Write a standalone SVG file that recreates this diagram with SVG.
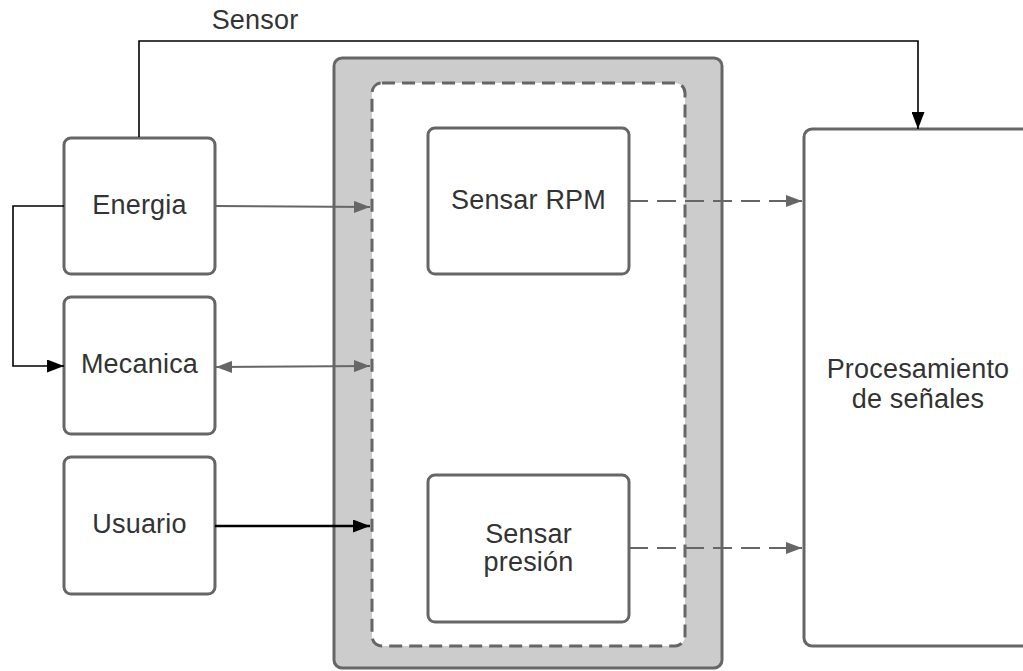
<svg xmlns="http://www.w3.org/2000/svg" width="1023" height="671" viewBox="0 0 1023 671">
  <style>
    .box { fill: #ffffff; stroke: #666666; stroke-width: 3; }
    .lbl { font-family: "Liberation Sans", Arial, sans-serif; font-size: 27px; fill: #333333; text-anchor: middle; letter-spacing: 0.2px; }
    .gray { stroke: #666666; stroke-width: 2; fill: none; }
    .black { stroke: #000000; stroke-width: 1.6; fill: none; }
    .dash { stroke: #666666; stroke-width: 2; fill: none; stroke-dasharray: 19 9; }
  </style>
  <defs>
    <marker id="arrGray" viewBox="0 0 16 12" refX="16" refY="6" markerWidth="16" markerHeight="12" markerUnits="userSpaceOnUse" orient="auto-start-reverse">
      <path d="M0,0 L16,6 L0,12 Z" fill="#666666"/>
    </marker>
    <marker id="arrBlack" viewBox="0 0 17 13" refX="17" refY="6.5" markerWidth="17" markerHeight="13" markerUnits="userSpaceOnUse" orient="auto">
      <path d="M0,0 L17,6.5 L0,13 Z" fill="#000000"/>
    </marker>
  </defs>

  <!-- sensing subsystem container -->
  <g id="container">
    <rect x="334" y="58" width="388" height="610" rx="8" fill="#cccccc" stroke="#666666" stroke-width="3"/>
    <rect x="372" y="83" width="313" height="563" rx="10" fill="#ffffff" stroke="#666666" stroke-width="3" stroke-dasharray="13 7"/>
  </g>

  <g id="energia">
    <rect class="box" x="64" y="138" width="151" height="136" rx="7"/>
    <text class="lbl" x="139.5" y="214">Energia</text>
  </g>
  <g id="mecanica">
    <rect class="box" x="64" y="297" width="151" height="137" rx="7"/>
    <text class="lbl" x="139.5" y="373">Mecanica</text>
  </g>
  <g id="usuario">
    <rect class="box" x="64" y="457" width="151" height="137" rx="7"/>
    <text class="lbl" x="139.5" y="533">Usuario</text>
  </g>
  <g id="sensar-rpm">
    <rect class="box" x="428" y="128" width="201" height="146" rx="7"/>
    <text class="lbl" x="528.5" y="209">Sensar RPM</text>
  </g>
  <g id="sensar-presion">
    <rect class="box" x="428" y="475" width="201" height="147" rx="7"/>
    <text class="lbl" x="528.5" y="543">Sensar</text>
    <text class="lbl" x="528.5" y="571">presión</text>
  </g>
  <g id="procesamiento">
    <rect class="box" x="804" y="129" width="232" height="517" rx="8"/>
    <text class="lbl" x="918" y="378">Procesamiento</text>
    <text class="lbl" x="918" y="408">de señales</text>
  </g>

  <g id="connectors">
    <!-- Energia to signal processing -->
    <polyline class="black" points="139,137 139,41 918,41 918,129" marker-end="url(#arrBlack)"/>
    <text class="lbl" x="255" y="29">Sensor</text>
    <!-- Energia to Mecanica -->
    <polyline class="black" points="64,206 13,206 13,366 64,366" marker-end="url(#arrBlack)"/>
    <!-- inputs into the sensing subsystem -->
    <line class="gray" x1="215" y1="206" x2="370" y2="207" marker-end="url(#arrGray)"/>
    <line class="gray" x1="216" y1="367" x2="370" y2="366" marker-start="url(#arrGray)" marker-end="url(#arrGray)"/>
    <line x1="215" y1="526" x2="370" y2="526" stroke="#000000" stroke-width="2.4" marker-end="url(#arrBlack)"/>
    <!-- sensor outputs -->
    <line class="dash" x1="629" y1="201" x2="802" y2="201" marker-end="url(#arrGray)"/>
    <line class="dash" x1="629" y1="548" x2="802" y2="548" marker-end="url(#arrGray)"/>
  </g>
</svg>
